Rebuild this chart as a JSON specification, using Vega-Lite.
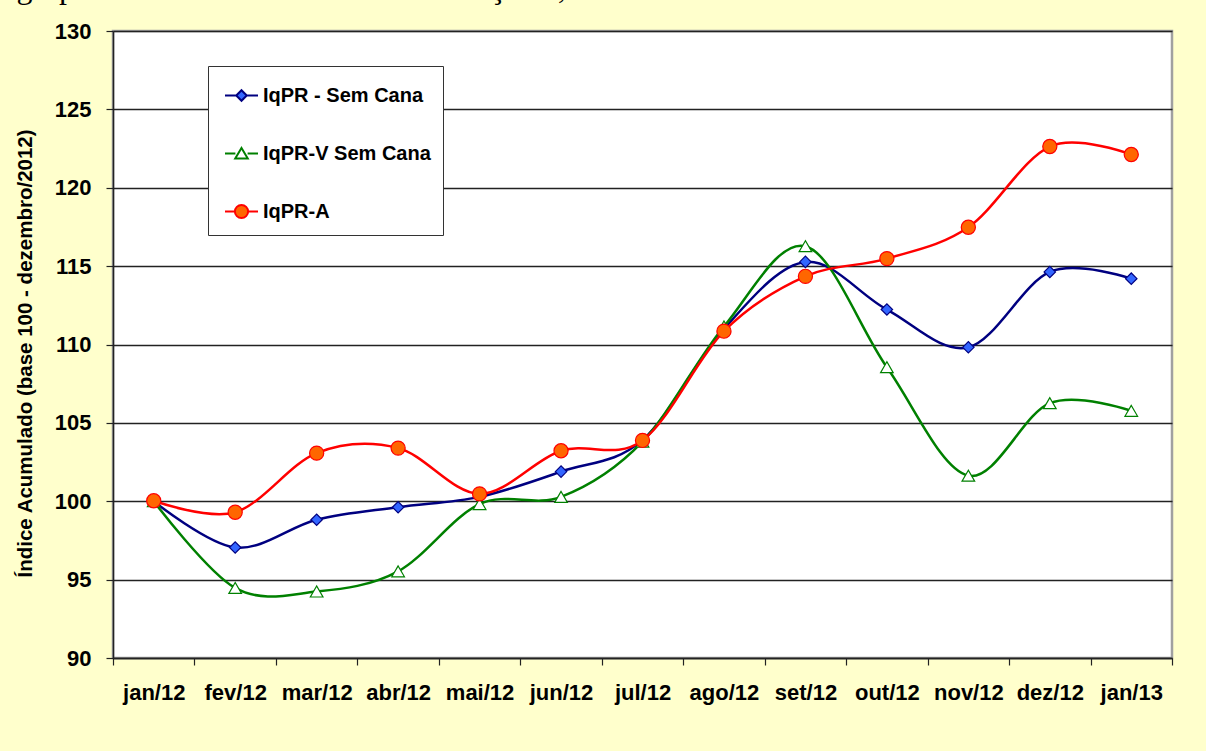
{
  "$schema": "https://vega.github.io/schema/vega-lite/v6.json",
  "width": 1059,
  "height": 627,
  "autosize": {"type": "none"},
  "padding": {"left": 113, "top": 31, "right": 34, "bottom": 93},
  "background": "#FFFFCC",
  "title": {
    "text": "Agropecuária Paulista Sem Cana-de-Açúcar, Janeiro de 2012 a Janeiro de 2013.",
    "font": "Liberation Serif",
    "fontSize": 32,
    "fontWeight": "normal",
    "color": "black",
    "anchor": "start",
    "frame": "bounds",
    "baseline": "alphabetic",
    "offset": 0,
    "dx": -22,
    "dy": 10
  },
  "config": {
    "view": {"fill": "white", "stroke": "#A0A0A0", "strokeWidth": 2.5},
    "axis": {
      "labelFont": "Liberation Sans",
      "labelFontWeight": "bold",
      "labelColor": "black",
      "titleFont": "Liberation Sans",
      "titleColor": "black",
      "domainColor": "#222222",
      "domainWidth": 1.5,
      "tickColor": "#222222",
      "tickWidth": 1.2,
      "tickSize": 7
    },
    "legend": {
      "orient": "none",
      "legendX": 95,
      "legendY": 35,
      "direction": "vertical",
      "fillColor": "white",
      "strokeColor": "#333333",
      "padding": 12,
      "symbolOffset": 4,
      "symbolSize": 1089,
      "symbolStrokeWidth": 2,
      "rowPadding": 30,
      "labelOffset": 4,
      "labelFont": "Liberation Sans",
      "labelFontSize": 20,
      "labelFontWeight": "bold",
      "labelColor": "black",
      "labelLimit": 400
    }
  },
  "data": {
    "values": [
      {"mes": "jan/12", "serie": "IqPR - Sem Cana", "valor": 100.0},
      {"mes": "fev/12", "serie": "IqPR - Sem Cana", "valor": 97.05},
      {"mes": "mar/12", "serie": "IqPR - Sem Cana", "valor": 98.82},
      {"mes": "abr/12", "serie": "IqPR - Sem Cana", "valor": 99.62},
      {"mes": "mai/12", "serie": "IqPR - Sem Cana", "valor": 100.28},
      {"mes": "jun/12", "serie": "IqPR - Sem Cana", "valor": 101.89},
      {"mes": "jul/12", "serie": "IqPR - Sem Cana", "valor": 103.9},
      {"mes": "ago/12", "serie": "IqPR - Sem Cana", "valor": 111.0},
      {"mes": "set/12", "serie": "IqPR - Sem Cana", "valor": 115.27},
      {"mes": "out/12", "serie": "IqPR - Sem Cana", "valor": 112.23},
      {"mes": "nov/12", "serie": "IqPR - Sem Cana", "valor": 109.82},
      {"mes": "dez/12", "serie": "IqPR - Sem Cana", "valor": 114.63},
      {"mes": "jan/13", "serie": "IqPR - Sem Cana", "valor": 114.2},
      {"mes": "jan/12", "serie": "IqPR-V Sem Cana", "valor": 100.0},
      {"mes": "fev/12", "serie": "IqPR-V Sem Cana", "valor": 94.47},
      {"mes": "mar/12", "serie": "IqPR-V Sem Cana", "valor": 94.24},
      {"mes": "abr/12", "serie": "IqPR-V Sem Cana", "valor": 95.53},
      {"mes": "mai/12", "serie": "IqPR-V Sem Cana", "valor": 99.82},
      {"mes": "jun/12", "serie": "IqPR-V Sem Cana", "valor": 100.28},
      {"mes": "jul/12", "serie": "IqPR-V Sem Cana", "valor": 103.8},
      {"mes": "ago/12", "serie": "IqPR-V Sem Cana", "valor": 111.15},
      {"mes": "set/12", "serie": "IqPR-V Sem Cana", "valor": 116.27},
      {"mes": "out/12", "serie": "IqPR-V Sem Cana", "valor": 108.55},
      {"mes": "nov/12", "serie": "IqPR-V Sem Cana", "valor": 101.63},
      {"mes": "dez/12", "serie": "IqPR-V Sem Cana", "valor": 106.26},
      {"mes": "jan/13", "serie": "IqPR-V Sem Cana", "valor": 105.77},
      {"mes": "jan/12", "serie": "IqPR-A", "valor": 100.03},
      {"mes": "fev/12", "serie": "IqPR-A", "valor": 99.3},
      {"mes": "mar/12", "serie": "IqPR-A", "valor": 103.07},
      {"mes": "abr/12", "serie": "IqPR-A", "valor": 103.39},
      {"mes": "mai/12", "serie": "IqPR-A", "valor": 100.47},
      {"mes": "jun/12", "serie": "IqPR-A", "valor": 103.22},
      {"mes": "jul/12", "serie": "IqPR-A", "valor": 103.88},
      {"mes": "ago/12", "serie": "IqPR-A", "valor": 110.85},
      {"mes": "set/12", "serie": "IqPR-A", "valor": 114.35},
      {"mes": "out/12", "serie": "IqPR-A", "valor": 115.48},
      {"mes": "nov/12", "serie": "IqPR-A", "valor": 117.48},
      {"mes": "dez/12", "serie": "IqPR-A", "valor": 122.63},
      {"mes": "jan/13", "serie": "IqPR-A", "valor": 122.12}
    ]
  },
  "encoding": {
    "x": {
      "field": "mes",
      "type": "ordinal",
      "sort": ["jan/12", "fev/12", "mar/12", "abr/12", "mai/12", "jun/12", "jul/12", "ago/12", "set/12", "out/12", "nov/12", "dez/12", "jan/13"],
      "scale": {"type": "band", "paddingInner": 0, "paddingOuter": 0},
      "axis": {
        "title": null,
        "labelAngle": 0,
        "labelFontSize": 22,
        "labelPadding": 17,
        "tickBand": "extent",
        "grid": false
      }
    },
    "y": {
      "field": "valor",
      "type": "quantitative",
      "scale": {"domain": [90, 130], "nice": false, "zero": false},
      "axis": {
        "values": [90, 95, 100, 105, 110, 115, 120, 125, 130],
        "title": "Índice Acumulado (base 100 - dezembro/2012)",
        "titleFontSize": 20.5,
        "titleFontWeight": "bold",
        "titlePadding": 19,
        "titleY": 322,
        "labelFontSize": 22,
        "labelPadding": 15,
        "grid": true,
        "gridColor": "#222222",
        "gridWidth": 1.3
      }
    }
  },
  "layer": [
    {
      "mark": {"type": "point", "filled": true, "strokeWidth": 2, "size": 0, "opacity": 1},
      "encoding": {
        "shape": {
          "field": "serie",
          "type": "nominal",
          "scale": {
            "domain": ["IqPR - Sem Cana", "IqPR-V Sem Cana", "IqPR-A"],
            "range": [
              "M-1,0H-0.32M0.32,0H1M0,-0.32L0.32,0L0,0.32L-0.32,0Z",
              "M-1,0H-0.37M0.37,0H1M0,-0.34L0.38,0.3L-0.38,0.3Z",
              "M-1,0H-0.4M0.4,0H1M-0.4,0A0.4,0.4,0,1,0,0.4,0A0.4,0.4,0,1,0,-0.4,0Z"
            ]
          },
          "legend": {"title": null}
        },
        "fill": {
          "field": "serie",
          "type": "nominal",
          "scale": {"domain": ["IqPR - Sem Cana", "IqPR-V Sem Cana", "IqPR-A"], "range": ["#3366FF", "#FFFFFF", "#FF6600"]},
          "legend": {"title": null}
        },
        "stroke": {
          "field": "serie",
          "type": "nominal",
          "scale": {"domain": ["IqPR - Sem Cana", "IqPR-V Sem Cana", "IqPR-A"], "range": ["#000080", "#008000", "#FF0000"]},
          "legend": {"title": null}
        }
      }
    },
    {
      "transform": [{"filter": {"field": "serie", "equal": "IqPR - Sem Cana"}}],
      "mark": {"type": "line", "interpolate": "cardinal", "tension": 0, "strokeWidth": 2.5, "stroke": "#000080"}
    },
    {
      "transform": [{"filter": {"field": "serie", "equal": "IqPR-V Sem Cana"}}],
      "mark": {"type": "line", "interpolate": "cardinal", "tension": 0, "strokeWidth": 2.5, "stroke": "#008000"}
    },
    {
      "transform": [{"filter": {"field": "serie", "equal": "IqPR-A"}}],
      "mark": {"type": "line", "interpolate": "cardinal", "tension": 0, "strokeWidth": 2.5, "stroke": "#FF0000"}
    },
    {
      "transform": [{"filter": {"field": "serie", "equal": "IqPR - Sem Cana"}}],
      "mark": {"type": "point", "shape": "diamond", "filled": true, "fill": "#3366FF", "stroke": "#000080", "strokeWidth": 1.2, "size": 130, "opacity": 1}
    },
    {
      "transform": [{"filter": {"field": "serie", "equal": "IqPR-V Sem Cana"}}],
      "mark": {"type": "point", "shape": "triangle-up", "filled": true, "fill": "#FFFFFF", "stroke": "#008000", "strokeWidth": 1.2, "size": 160, "opacity": 1}
    },
    {
      "transform": [{"filter": {"field": "serie", "equal": "IqPR-A"}}],
      "mark": {"type": "point", "shape": "circle", "filled": true, "fill": "#FF6600", "stroke": "#FF0000", "strokeWidth": 1.2, "size": 200, "opacity": 1}
    }
  ]
}
